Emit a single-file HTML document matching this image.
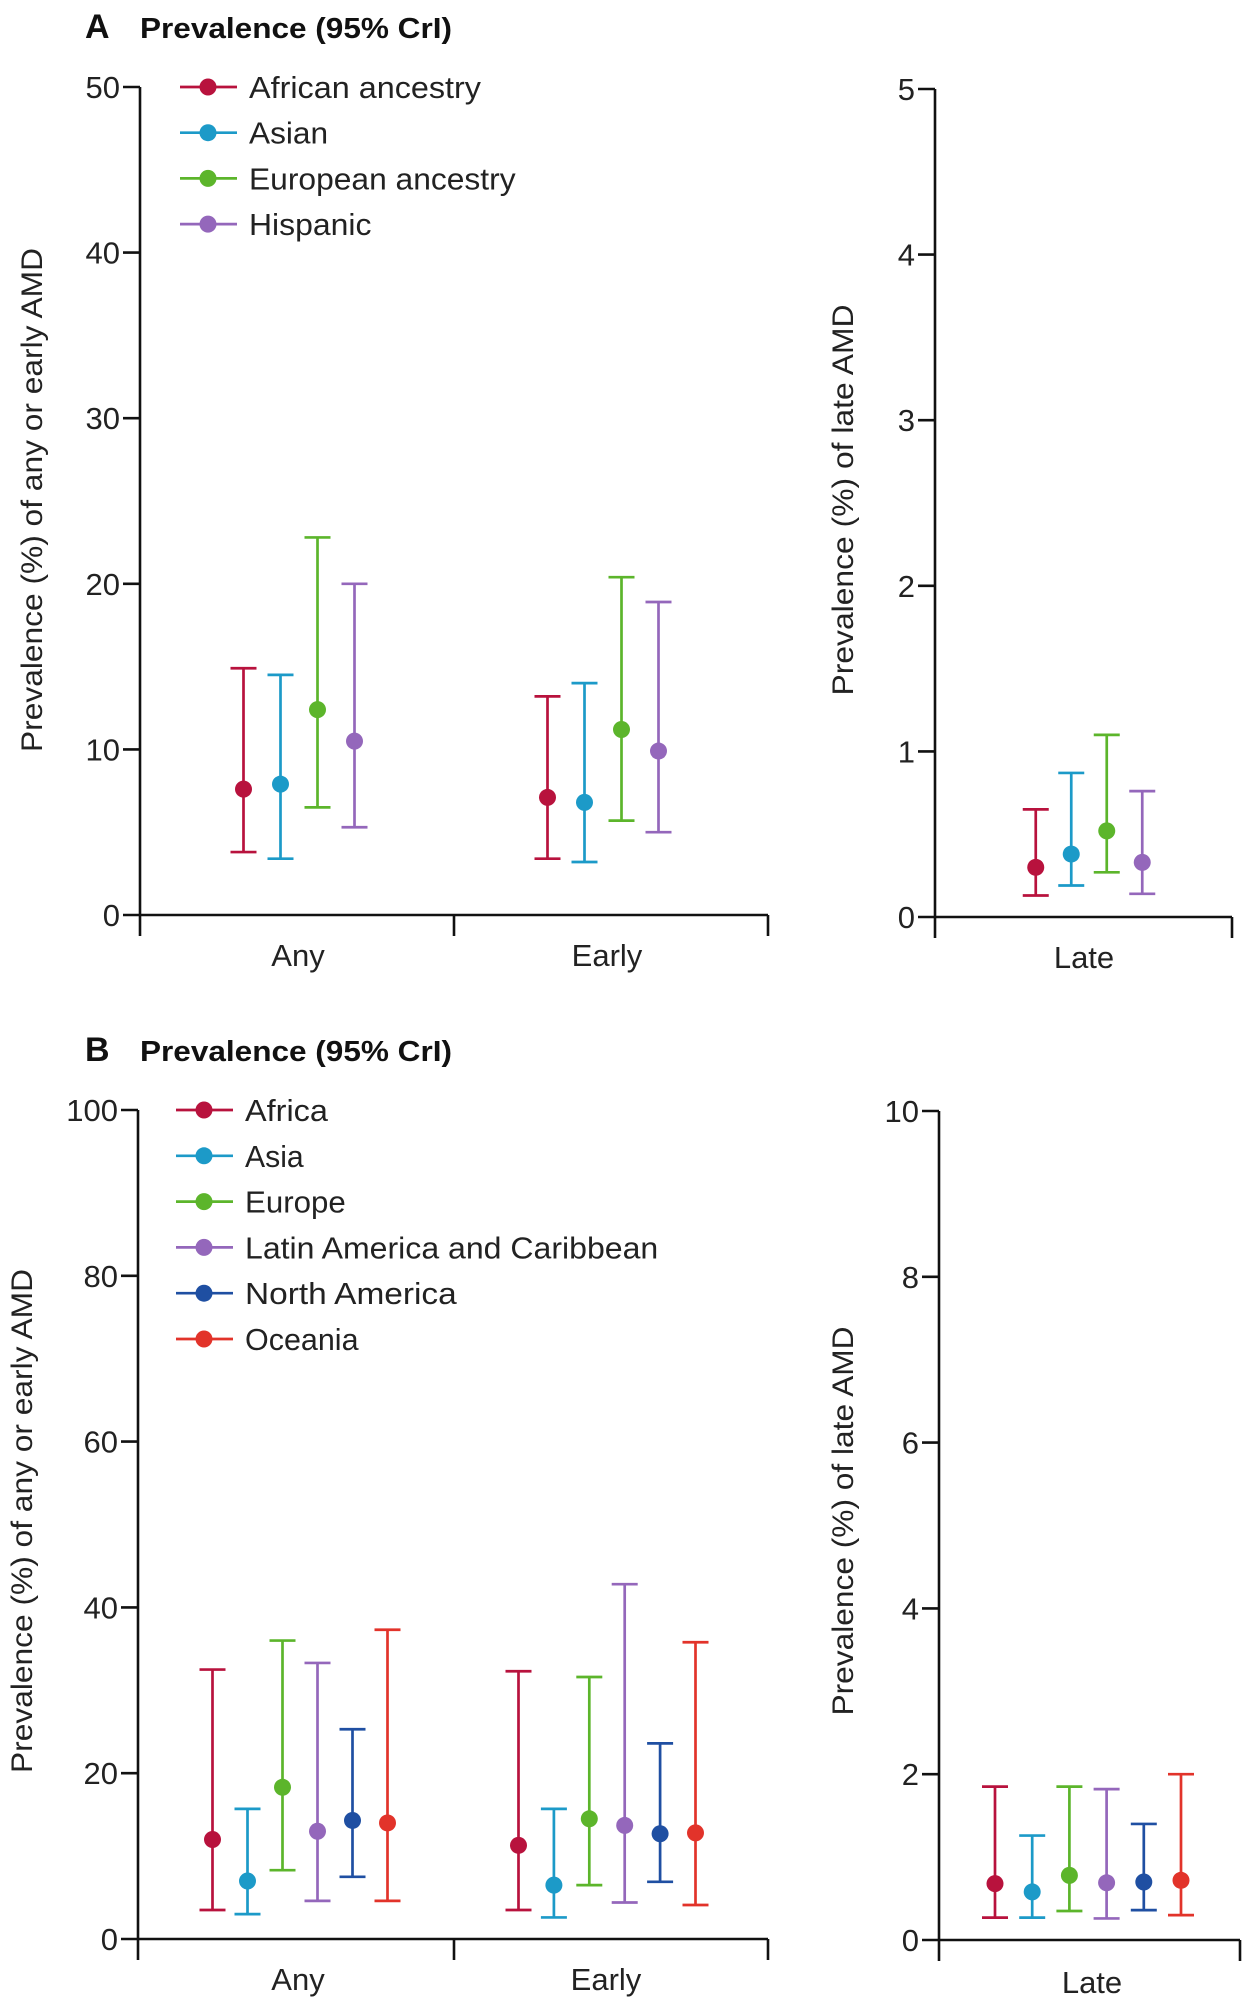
<!DOCTYPE html>
<html><head><meta charset="utf-8"><style>
html,body{margin:0;padding:0;background:#fff;}
svg{display:block;font-family:"Liberation Sans Narrow","Liberation Sans",sans-serif;}
</style></head><body>
<svg id="chart" width="1250" height="2006" viewBox="0 0 1250 2006"></svg>
<script>
// ---------- Panel A data ----------
const seriesA = ["African ancestry","Asian","European ancestry","Hispanic"];
const colorsA = ["#b8123d","#1c9ac8","#5cb52b","#9467bb"];
const anyA_mid = [7.6, 7.9, 12.4, 10.5];
const anyA_lo  = [3.8, 3.4, 6.5, 5.3];
const anyA_hi  = [14.9, 14.5, 22.8, 20.0];
const earlyA_mid = [7.1, 6.8, 11.2, 9.9];
const earlyA_lo  = [3.4, 3.2, 5.7, 5.0];
const earlyA_hi  = [13.2, 14.0, 20.4, 18.9];
const lateA_mid = [0.30, 0.38, 0.52, 0.33];
const lateA_lo  = [0.13, 0.19, 0.27, 0.14];
const lateA_hi  = [0.65, 0.87, 1.10, 0.76];
const ticksA_left = [0,10,20,30,40,50];
const ticksA_right = [0,1,2,3,4,5];
// ---------- Panel B data ----------
const seriesB = ["Africa","Asia","Europe","Latin America and Caribbean","North America","Oceania"];
const colorsB = ["#b8123d","#1c9ac8","#5cb52b","#9467bb","#1f4fa2","#e2332a"];
const anyB_mid = [12.0, 7.0, 18.3, 13.0, 14.3, 14.0];
const anyB_lo  = [3.5, 3.0, 8.3, 4.6, 7.5, 4.6];
const anyB_hi  = [32.5, 15.7, 36.0, 33.3, 25.3, 37.3];
const earlyB_mid = [11.3, 6.5, 14.5, 13.7, 12.7, 12.8];
const earlyB_lo  = [3.5, 2.6, 6.5, 4.4, 6.9, 4.1];
const earlyB_hi  = [32.3, 15.7, 31.6, 42.8, 23.6, 35.8];
const lateB_mid = [0.68, 0.58, 0.78, 0.69, 0.70, 0.72];
const lateB_lo  = [0.27, 0.27, 0.35, 0.26, 0.36, 0.30];
const lateB_hi  = [1.85, 1.26, 1.85, 1.82, 1.40, 2.00];
const ticksB_left = [0,20,40,60,80,100];
const ticksB_right = [0,2,4,6,8,10];

const NS="http://www.w3.org/2000/svg";
const svg=document.getElementById('chart');
function el(tag,attrs,parent,txt){const e=document.createElementNS(NS,tag);for(const k in attrs)e.setAttribute(k,attrs[k]);if(txt!==undefined)e.textContent=txt;(parent||svg).appendChild(e);return e;}
function lin(d0,d1,r0,r1){return v=>r0+(v-d0)/(d1-d0)*(r1-r0);}

function axisY(g,x,y0,y1,ticks,scale,name){
  const a=el('line',{x1:x,y1:scale(ticks[ticks.length-1]),x2:x,y2:y0+1,stroke:'#111','stroke-width':2.6},g);
  
  
  ticks.forEach(t=>{
    const y=scale(t);
    const tk=el('line',{x1:x-17,y1:y,x2:x,y2:y,stroke:'#111','stroke-width':2.6},g);
    
    
    const lb=el('text',{x:x-20,y:y+11,'text-anchor':'end','font-size':31,fill:'#222'},g,String(t));
    
    
  });
}
function axisX(g,x0,x1,y,mids,name){
  const a=el('line',{x1:x0-1,y1:y,x2:x1,y2:y,stroke:'#111','stroke-width':2.6},g);
  
  
  [x0].concat(mids,[x1]).forEach(x=>{
    const t=el('line',{x1:x,y1:y,x2:x,y2:y+21,stroke:'#111','stroke-width':2.6},g);
    
    
  });
}
function xlabel(g,x,y,s){
  const t=el('text',{x:x,y:y,'text-anchor':'middle','font-size':31,fill:'#222'},g,s);
  
  
}
function ytitle(g,x,y,s,len){
  const t=el('text',{x:0,y:0,transform:`translate(${x},${y}) rotate(-90)`,'text-anchor':'middle','font-size':30,fill:'#222',textLength:len,lengthAdjust:'spacingAndGlyphs'},g,s);
  
  
}
function bars(g,xs,mid,lo,hi,colors,scale,names){
  mid.forEach((m,i)=>{
    const gg=el('g',{},g);
    
    
    const x=xs[i],c=colors[i];
    el('line',{x1:x,y1:scale(lo[i]),x2:x,y2:scale(hi[i]),stroke:c,'stroke-width':2.7},gg);
    el('line',{x1:x-13,y1:scale(lo[i]),x2:x+13,y2:scale(lo[i]),stroke:c,'stroke-width':2.7},gg);
    el('line',{x1:x-13,y1:scale(hi[i]),x2:x+13,y2:scale(hi[i]),stroke:c,'stroke-width':2.7},gg);
    el('circle',{cx:x,cy:scale(m),r:8.5,fill:c},gg);
  });
}
function positions(center,n,step){const r=[];for(let i=0;i<n;i++)r.push(center+(i-(n-1)/2)*step);return r;}
function legend(g,x,y0,dy,names,colors,widths){
  names.forEach((n,i)=>{
    const gg=el('g',{},g);
    
    
    const y=y0+i*dy;
    el('line',{x1:x,y1:y,x2:x+57,y2:y,stroke:colors[i],'stroke-width':2.7},gg);
    el('circle',{cx:x+28,cy:y,r:8.5,fill:colors[i]},gg);
    el('text',{x:x+69,y:y+11,'font-size':31,fill:'#222',textLength:widths[i],lengthAdjust:'spacingAndGlyphs'},gg,n);
  });
}
function title(g,x,y,letter){
  const a=el('text',{x:x,y:y,'font-size':34,'font-weight':'bold',fill:'#111'},g,letter);
  
  
  const b=el('text',{x:x+55,y:y,'font-size':29,'font-weight':'bold',fill:'#111',textLength:312,lengthAdjust:'spacingAndGlyphs'},g,'Prevalence (95% CrI)');
  
  
}

// ---------- Panel A ----------
const gA=el('g',{});


title(gA,85,38,'A');
const yA=lin(0,50,915,87), yAr=lin(0,5,917,89);
axisY(gA,140,915,87,ticksA_left,yA,'panel-a-left');
axisX(gA,140,768,915,[454],'panel-a-left');
axisY(gA,935,917,89,ticksA_right,yAr,'panel-a-right');
axisX(gA,935,1232,917,[],'panel-a-right');
xlabel(gA,298,966,'Any'); xlabel(gA,607,966,'Early'); xlabel(gA,1084,968,'Late');
ytitle(gA,42,500,'Prevalence (%) of any or early AMD',504);
ytitle(gA,853,500,'Prevalence (%) of late AMD',391);
legend(gA,180,87,45.7,seriesA,colorsA,[232,62*1.2755,209*1.2755,96*1.2755]);
bars(gA,positions(299,4,37),anyA_mid,anyA_lo,anyA_hi,colorsA,yA,seriesA.map(s=>'any-'+s));
bars(gA,positions(603,4,37),earlyA_mid,earlyA_lo,earlyA_hi,colorsA,yA,seriesA.map(s=>'early-'+s));
bars(gA,positions(1089,4,35.5),lateA_mid,lateA_lo,lateA_hi,colorsA,yAr,seriesA.map(s=>'late-'+s));

// ---------- Panel B ----------
const gB=el('g',{});


title(gB,85,1061,'B');
const yB=lin(0,100,1939,1110), yBr=lin(0,10,1940,1111);
axisY(gB,138,1939,1110,ticksB_left,yB,'panel-b-left');
axisX(gB,138,768,1939,[454],'panel-b-left');
axisY(gB,939,1940,1111,ticksB_right,yBr,'panel-b-right');
axisX(gB,939,1240,1940,[],'panel-b-right');
xlabel(gB,298,1990,'Any'); xlabel(gB,606,1990,'Early'); xlabel(gB,1092,1993,'Late');
ytitle(gB,32,1521,'Prevalence (%) of any or early AMD',504);
ytitle(gB,853,1521,'Prevalence (%) of late AMD',389);
legend(gB,176,1110,45.8,seriesB,colorsB,[65*1.2755,46*1.2755,79*1.2755,324*1.2755,166*1.2755,89*1.2755]);
bars(gB,positions(300,6,35),anyB_mid,anyB_lo,anyB_hi,colorsB,yB,seriesB.map(s=>'any-'+s));
bars(gB,positions(607,6,35.4),earlyB_mid,earlyB_lo,earlyB_hi,colorsB,yB,seriesB.map(s=>'early-'+s));
bars(gB,positions(1088,6,37.2),lateB_mid,lateB_lo,lateB_hi,colorsB,yBr,seriesB.map(s=>'late-'+s));
</script>
</body></html>
